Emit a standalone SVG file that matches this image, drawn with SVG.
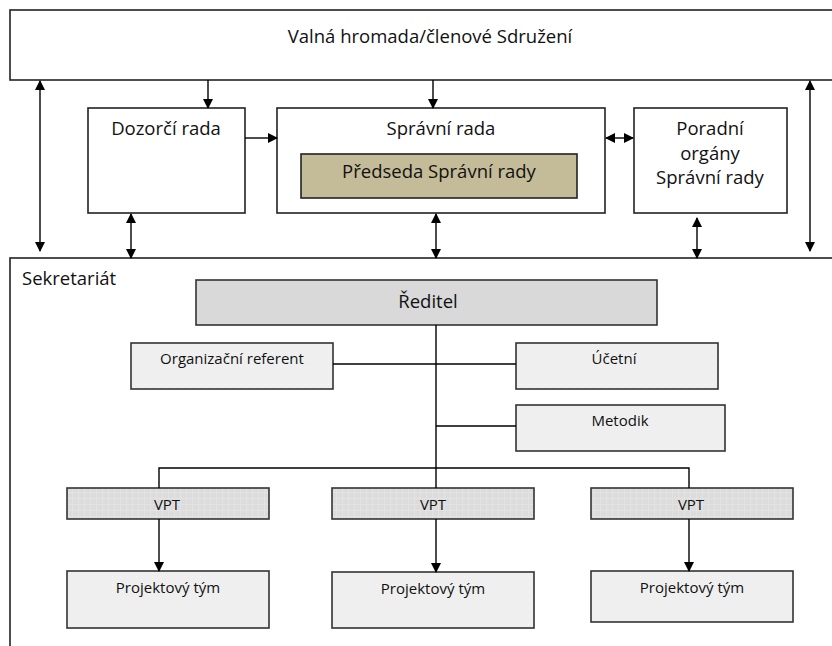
<svg xmlns="http://www.w3.org/2000/svg" width="832" height="646" viewBox="0 0 832 646">
<defs>
<marker id="ah" markerWidth="10" markerHeight="10" refX="9" refY="5" orient="auto-start-reverse" markerUnits="userSpaceOnUse">
<path d="M0,0 L10,5 L0,10 z" fill="#000"/>
</marker>
<pattern id="hatch" width="6" height="6" patternUnits="userSpaceOnUse">
<rect width="6" height="6" fill="#dcdcdc"/>
<path d="M0,0.5 H6 M0.5,0 V6" stroke="#e3e3e3" stroke-width="1"/>
</pattern>
<pattern id="dots" width="8" height="8" patternUnits="userSpaceOnUse">
<rect width="8" height="8" fill="#efefef"/>
<rect x="0" y="0" width="1" height="1" fill="#f7f7f7"/>
</pattern>
<style>
text{font-family:"Open Sans","Liberation Sans",sans-serif;fill:#111;text-anchor:middle}
.b{fill:#fff;stroke:#222;stroke-width:1.6}
.g{fill:url(#dots);stroke:#333;stroke-width:1.6}
.v{fill:url(#hatch);stroke:#333;stroke-width:1.6}
.c{stroke:#000;stroke-width:1.4;fill:none}
.a{stroke:#000;stroke-width:1.4;fill:none;marker-end:url(#ah)}
.d{stroke:#000;stroke-width:1.4;fill:none;marker-end:url(#ah);marker-start:url(#ah)}
.t1{font-size:18.5px}
.t2{font-size:15px}
</style>
</defs>
<g id="valna"><rect class="b" x="10" y="10" width="830" height="70"/><text class="t1" x="430" y="43">Valná hromada/členové Sdružení</text></g>
<g id="dozorci"><rect class="b" x="88" y="108" width="157" height="105"/><text class="t1" x="166" y="135">Dozorčí rada</text></g>
<g id="spravni"><rect class="b" x="277" y="108" width="328" height="105"/><text class="t1" x="441" y="135">Správní rada</text></g>
<g id="predseda"><rect x="301" y="154" width="276" height="44" fill="#c4bc98" stroke="#222" stroke-width="1.6"/><text class="t1" x="439" y="178">Předseda Správní rady</text></g>
<g id="poradni"><rect class="b" x="634" y="108" width="153" height="105"/><text class="t1" x="710" y="135">Poradní</text><text class="t1" x="710" y="160">orgány</text><text class="t1" x="710" y="184">Správní rady</text></g>
<g id="sekretariat"><rect class="b" x="10" y="258" width="830" height="400"/><text x="22" y="285" style="text-anchor:start;font-size:18.5px">Sekretariát</text></g>
<g id="reditel"><rect x="196" y="280" width="461" height="45" fill="#d9d9d9" stroke="#333" stroke-width="1.6"/><text x="428" y="308" style="font-size:18.5px">Ředitel</text></g>
<g id="org"><rect class="g" x="131" y="343" width="202" height="46"/><text class="t2" x="232" y="364">Organizační referent</text></g>
<g id="ucetni"><rect class="g" x="516" y="343" width="202" height="46"/><text class="t2" x="614" y="364">Účetní</text></g>
<g id="metodik"><rect class="g" x="516" y="405" width="209" height="46"/><text class="t2" x="620" y="426">Metodik</text></g>
<g id="vpt1"><rect class="v" x="67" y="488" width="202" height="31"/><text class="t2" x="167" y="510">VPT</text></g>
<g id="vpt2"><rect class="v" x="332" y="488" width="202" height="31"/><text class="t2" x="433" y="510">VPT</text></g>
<g id="vpt3"><rect class="v" x="591" y="488" width="202" height="31"/><text class="t2" x="691" y="510">VPT</text></g>
<g id="pt1"><rect class="g" x="67" y="571" width="202" height="57"/><text class="t2" x="168" y="593">Projektový tým</text></g>
<g id="pt2"><rect class="g" x="332" y="572" width="202" height="56"/><text class="t2" x="433" y="594">Projektový tým</text></g>
<g id="pt3"><rect class="g" x="591" y="571" width="202" height="51"/><text class="t2" x="692" y="593">Projektový tým</text></g>
<g id="connectors">
<line class="a" x1="208" y1="80" x2="208" y2="108"/>
<line class="a" x1="433" y1="80" x2="433" y2="108"/>
<line class="d" x1="40" y1="81" x2="40" y2="251"/>
<line class="d" x1="810" y1="81" x2="810" y2="251"/>
<line class="a" x1="245" y1="138" x2="277" y2="138"/>
<line class="d" x1="606" y1="138" x2="633" y2="138"/>
<line class="d" x1="131" y1="214" x2="131" y2="258"/>
<line class="d" x1="436" y1="214" x2="436" y2="258"/>
<line class="d" x1="697" y1="218" x2="697" y2="258"/>
<line class="c" x1="436" y1="325" x2="436" y2="488"/>
<line class="c" x1="333" y1="364" x2="516" y2="364"/>
<line class="c" x1="436" y1="426" x2="516" y2="426"/>
<polyline class="c" points="159,488 159,468 689,468 689,488"/>
<line class="a" x1="159" y1="519" x2="159" y2="571"/>
<line class="a" x1="436" y1="519" x2="436" y2="572"/>
<line class="a" x1="689" y1="519" x2="689" y2="571"/>
</g>
</svg>
